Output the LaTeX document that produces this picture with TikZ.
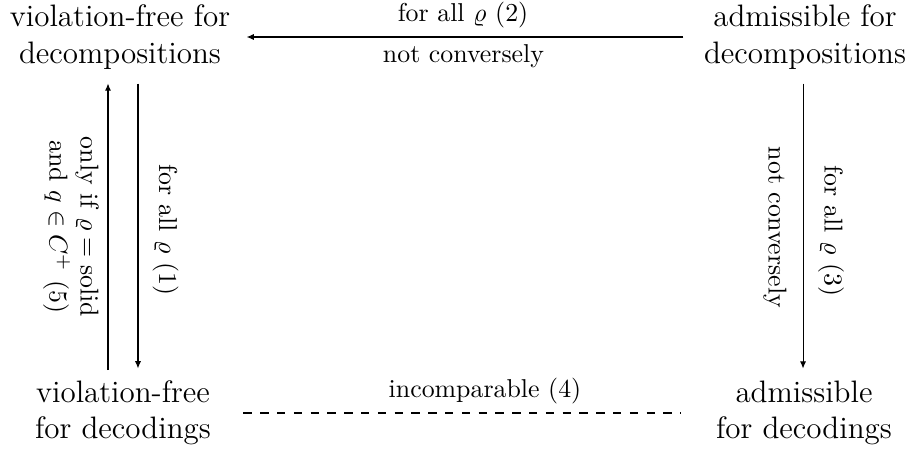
\documentclass[tikz,border=0pt]{standalone}
\usetikzlibrary{arrows.meta}
\begin{document}
\begin{tikzpicture}[x=0.38685pt,y=-0.38685pt,
  corner/.style={align=center,inner sep=0pt,font=\large},
  lbl/.style={inner sep=0pt},
  arr/.style={-{Latex[length=2.8pt,width=2.4pt]},line width=0.4pt},
  dashline/.style={dash pattern=on 3.25pt off 3.25pt,line width=0.4pt}]
\useasboundingbox (0,0) rectangle (910,458);
\node[corner] (TL) at (120,37) {violation-free for\\decompositions};
\node[corner] (TR) at (805,37) {admissible for\\decompositions};
\node[corner] (BL) at (123,413) {violation-free\\for decodings};
\node[corner] (BR) at (804,413) {admissible\\for decodings};
% top arrow
\draw[arr] ([xshift=-7.74pt]TR.west) -- ([xshift=6.19pt]TL.east);
\node[lbl,anchor=base] (l2) at (463,21) {for all $\varrho$ (2)};
\node[lbl,anchor=base] (l2b) at (463.5,62) {not conversely};
% left arrows
\coordinate (a1) at ([xshift=-4.64pt,yshift=-5.4pt]TL.south);
\coordinate (a2) at ([xshift=6.96pt,yshift=-5.4pt]TL.south);
\coordinate (b1) at ([yshift=3.9pt]BL.north);
\coordinate (b2) at ([yshift=4.6pt]BL.north);
\draw[arr] (a1 |- b1) -- (a1);
\draw[arr] (a2) -- (a2 |- b2);
\node[lbl,rotate=-90,align=center] (l5) at (71,227) {only if $\varrho=\mathrm{solid}$\\and $q\in C^+$ (5)};
\node[lbl,rotate=-90] (l1) at (165.5,230) {for all $\varrho$ (1)};
% right arrow
\coordinate (a3) at ([xshift=-0.77pt,yshift=-5.4pt]TR.south);
\coordinate (b3) at ([yshift=4.6pt]BR.north);
\draw[arr] (a3) -- (a3 |- b3);
\node[lbl,rotate=-90] (l3) at (831,231) {for all $\varrho$ (3)};
\node[lbl,rotate=-90] (l3b) at (775,227.5) {not conversely};
% dashed
\draw[dashline] ([xshift=12.4pt]BL.east) -- ([xshift=-13.5pt]BR.west);
\node[lbl,anchor=base] (l4) at (485,397) {incomparable (4)};
\end{tikzpicture}
\end{document}
